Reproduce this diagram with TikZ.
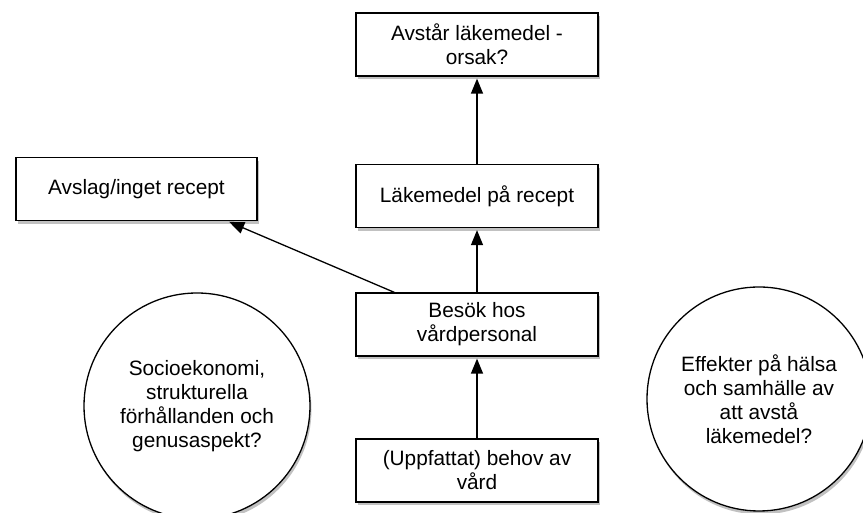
\documentclass[tikz,border=0pt]{standalone}
\usepackage{fontspec}
\setmainfont{Liberation Sans}
\usetikzlibrary{positioning,arrows.meta,calc,shadows}

\begin{document}
\begin{tikzpicture}[x=1pt,y=1pt,>={Triangle[length=15pt,width=12pt]},
  box/.style={draw,line width=1.3pt,fill=white,minimum width=242pt,minimum height=63pt,
    inner sep=0pt,align=center,font=\fontsize{20.8}{24}\selectfont,
    drop shadow={shadow xshift=1.5pt,shadow yshift=-3.5pt,fill=black!35,opacity=0.7}},
  bubble/.style={box,circle,minimum width=0pt,minimum height=0pt,minimum size=226pt}]
  \useasboundingbox (0,0) rectangle (863,513);
  \node[box] (avstar) at (477,468.5) {Avstår läkemedel -\\orsak?};
  \node[box] (recept) at (477,317) {Läkemedel på recept};
  \node[box,minimum width=241pt] (avslag) at (136.5,324) {Avslag/inget recept};
  \node[box] (besok) at (477,188.5) {Besök hos\\vårdpersonal};
  \node[box] (behov) at (477,42.5) {(Uppfattat) behov av\\vård};
  \node[bubble] (socio) at (197,107) {Socioekonomi,\\strukturella\\förhållanden och\\genusaspekt?};
  \node[bubble,minimum size=224pt] (effekt) at (759,114) {Effekter på hälsa\\och samhälle av\\att avstå\\läkemedel?};
  \draw[->,line width=1.3pt,shorten >=2pt] (behov) -- (besok);
  \draw[->,line width=1.3pt,shorten >=2pt] (besok) -- (recept);
  \draw[->,line width=1.3pt,shorten >=2pt] (recept) -- (avstar);
  \draw[->,line width=1.3pt,shorten >=2pt] ($(besok.north west)!0.16!(besok.north east)$)
    -- ($(avslag.south west)!0.875!(avslag.south east)$);
\end{tikzpicture}
\end{document}
